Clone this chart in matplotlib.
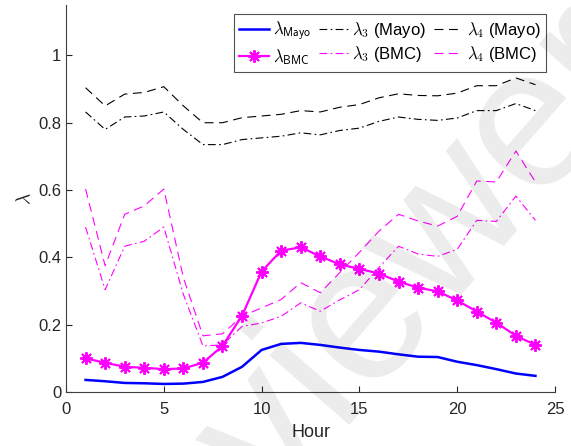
import numpy as np
import matplotlib
matplotlib.use("Agg")
import matplotlib.pyplot as plt

plt.rcParams['font.family'] = ['Liberation Sans', 'DejaVu Sans']
plt.rcParams['mathtext.fontset'] = 'cm'

# hour of day
hours = list(range(1, 25))

# lambda estimates
lam_mayo = [0.036, 0.032, 0.027, 0.026, 0.024, 0.025, 0.030, 0.045, 0.075, 0.125, 0.143, 0.146,
            0.140, 0.132, 0.125, 0.120, 0.112, 0.105, 0.104, 0.090, 0.080, 0.068, 0.055, 0.048]
lam_bmc = [0.100, 0.087, 0.075, 0.072, 0.068, 0.070, 0.087, 0.137, 0.227, 0.358, 0.420, 0.430,
           0.403, 0.379, 0.366, 0.352, 0.328, 0.310, 0.299, 0.272, 0.239, 0.206, 0.167, 0.140]
lam3_mayo = [0.832, 0.780, 0.817, 0.820, 0.832, 0.780, 0.735, 0.735, 0.750, 0.755, 0.760, 0.770,
             0.764, 0.777, 0.784, 0.804, 0.817, 0.810, 0.807, 0.814, 0.836, 0.836, 0.857, 0.836]
lam4_mayo = [0.904, 0.850, 0.885, 0.890, 0.907, 0.850, 0.800, 0.800, 0.815, 0.820, 0.825, 0.836,
             0.832, 0.846, 0.854, 0.874, 0.886, 0.881, 0.880, 0.888, 0.910, 0.910, 0.933, 0.913]
lam3_bmc = [0.490, 0.304, 0.433, 0.448, 0.490, 0.290, 0.137, 0.140, 0.195, 0.205, 0.225, 0.265,
            0.240, 0.274, 0.304, 0.370, 0.433, 0.410, 0.403, 0.424, 0.510, 0.507, 0.582, 0.510]
lam4_bmc = [0.603, 0.375, 0.528, 0.553, 0.603, 0.340, 0.167, 0.173, 0.225, 0.250, 0.275, 0.325,
            0.295, 0.355, 0.415, 0.478, 0.528, 0.508, 0.493, 0.522, 0.627, 0.624, 0.716, 0.624]

fig = plt.figure(figsize=(5.71, 4.46), dpi=100)
ax = fig.add_axes([0.1156, 0.121, 0.8564, 0.868])

dashdot = (0, (7, 3, 1.5, 3))
dashed = (0, (8, 5))
ax.plot(hours, lam_mayo, color='#0000ff', lw=1.8, label=r'$\lambda_{\mathsf{Mayo}}$')
ax.plot(hours, lam_bmc, color='#ff00ff', lw=1.6, marker=(8, 2, 0), ms=9, mew=1.4,
        label=r'$\lambda_{\mathsf{BMC}}$')
ax.plot(hours, lam3_mayo, color='k', lw=0.8, ls=dashdot, label=r'$\lambda_{\mathsf{3}}$ (Mayo)')
ax.plot(hours, lam3_bmc, color='#ff00ff', lw=0.8, ls=dashdot, label=r'$\lambda_{\mathsf{3}}$ (BMC)')
ax.plot(hours, lam4_mayo, color='k', lw=0.8, ls=dashed, label=r'$\lambda_{\mathsf{4}}$ (Mayo)')
ax.plot(hours, lam4_bmc, color='#ff00ff', lw=0.8, ls=dashed, label=r'$\lambda_{\mathsf{4}}$ (BMC)')

ax.set_xlim(0, 25)
ax.set_ylim(0, 1.15)
ax.set_xticks([0, 5, 10, 15, 20, 25])
ax.set_yticks([0, 0.2, 0.4, 0.6, 0.8, 1])
ax.set_yticklabels(['0', '0.2', '0.4', '0.6', '0.8', '1'])
ax.tick_params(direction='in', length=4, labelsize=12, colors='#262626', width=0.8)
ax.tick_params(axis='x', pad=7)
for s in ['top', 'right']:
    ax.spines[s].set_visible(False)
for s in ['left', 'bottom']:
    ax.spines[s].set_color('#404040')
    ax.spines[s].set_linewidth(0.8)
ax.set_xlabel('Hour', fontsize=13, color='#262626', labelpad=5)
ax.set_ylabel(r'$\lambda$', fontsize=14, color='#262626', labelpad=3)

leg = ax.legend(loc='upper right', ncol=3, fontsize=12, frameon=True, fancybox=False,
                edgecolor='#262626', handlelength=1.75, columnspacing=0.45, handletextpad=0.25,
                borderaxespad=0.55, borderpad=0.3, labelspacing=0.25)
leg.get_frame().set_linewidth(0.8)

# watermark
fig.text(0.658, 0.160, 'Reviewer', rotation=49, rotation_mode='anchor', fontsize=144,
         color='k', alpha=0.08, ha='center', va='baseline')

fig.savefig('out.png', dpi=100)
